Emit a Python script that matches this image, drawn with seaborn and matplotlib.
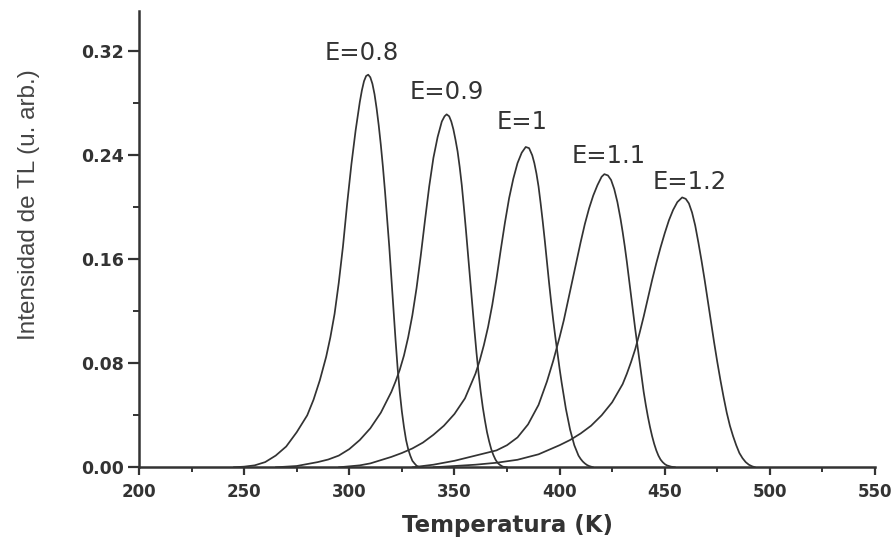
import matplotlib
matplotlib.use("Agg")
import matplotlib.pyplot as plt
import seaborn as sns
import numpy as np
import pandas as pd
from matplotlib.ticker import MultipleLocator, FormatStrFormatter

# ---- data ----
T_08 = [245, 250, 255, 260, 265, 270, 275, 280, 283, 286, 289, 291, 293, 295, 297, 299, 301, 303, 305, 306,
        307, 308, 309, 310, 311, 312, 313, 314, 315, 316, 317, 318, 319, 320, 321, 322, 323, 324, 325, 326,
        327, 328, 329, 330, 331, 332, 333, 335]
I_08 = [0, .0005, .0015, .004, .009, .016, .027, .040, .052, .067, .085, .100, .118, .142, .170, .203, .233, .259, .281, .290,
        .297, .301, .302, .300, .295, .287, .276, .263, .248, .231, .212, .191, .170, .146, .122, .098, .076, .058, .043, .031,
        .021, .014, .009, .005, .003, .0012, .0004, 0]

T_09 = [265, 275, 285, 290, 295, 300, 305, 310, 315, 320, 322, 324, 326, 328, 330, 332, 334, 336, 338, 340,
        342, 344, 345.3, 346.3, 347.5, 348.5, 349.5, 350.5, 351.5, 352.5, 353.5, 354.5, 355.5, 356.5, 357.5, 358.5,
        359.5, 360.5, 361.5, 362.5, 363.5, 364.5, 365.5, 366.5, 367.5, 368.5, 369.5, 370.5, 371.5, 373, 375]
I_09 = [0, .001, .004, .006, .009, .014, .021, .030, .042, .058, .066, .075, .086, .100, .117, .138, .163, .190, .216, .238,
        .254, .266, .270, .2715, .270, .266, .260, .252, .243, .231, .217, .200, .182, .163, .144, .125,
        .106, .088, .072, .058, .046, .036, .027, .020, .014, .0095, .006, .0035, .002, .0005, 0]

T_10 = [295, 305, 310, 315, 320, 325, 330, 335, 340, 345, 350, 355, 360, 362, 364, 366, 368, 370, 372, 374,
        376, 378, 380, 382, 383.9, 385.5, 387, 388, 389, 390, 391, 392, 393, 394, 395, 396, 397, 398, 399, 400,
        401, 402, 403, 404, 405, 406, 407, 408, 409, 410, 411, 412, 413, 414, 416]
I_10 = [0, .0015, .003, .0055, .008, .011, .0145, .019, .025, .032, .041, .053, .072, .082, .094, .108, .125, .145, .167, .188,
        .207, .222, .234, .242, .2464, .2455, .240, .234, .226, .216, .203, .189, .174, .158, .142, .127, .113, .100, .088, .076,
        .065, .055, .045, .037, .029, .023, .017, .013, .009, .0065, .0045, .003, .0018, .001, 0]

T_11 = [330, 340, 350, 360, 365, 370, 375, 380, 385, 390, 394, 397, 400, 402, 404, 406, 408, 410, 412, 414,
        416, 418, 420, 421.3, 423, 424.5, 426, 427.5, 429, 430, 431, 432, 433, 434, 435, 436, 437, 438, 439, 440,
        441, 442, 443, 444, 445, 446, 447, 448, 449, 450, 451, 453, 455]
I_11 = [0, .002, .005, .009, .011, .013, .017, .023, .033, .048, .066, .082, .100, .113, .128, .143, .158, .173, .187, .199,
        .209, .217, .2235, .2255, .2245, .221, .214, .204, .191, .181, .170, .158, .145, .132, .119, .106, .094, .082, .070, .058,
        .048, .039, .031, .024, .018, .013, .009, .006, .004, .0025, .0015, .0005, 0]

T_12 = [340, 350, 360, 370, 380, 390, 400, 405, 410, 415, 420, 425, 430, 432, 434, 436, 438, 440, 442, 444,
        446, 448, 450, 452, 454, 456, 458.3, 460, 461.5, 463, 464.5, 466, 467.5, 469, 470.5, 472, 473.5, 475,
        476.5, 478, 479.5, 481, 482.5, 484, 485.5, 487, 488.5, 490, 491.5, 493]
I_12 = [0, .001, .002, .0035, .0058, .010, .017, .021, .026, .032, .040, .050, .064, .072, .081, .091, .103, .116, .130, .144,
        .157, .169, .180, .190, .198, .204, .2076, .2065, .203, .196, .186, .173, .159, .144, .128, .112, .096, .081,
        .067, .054, .042, .032, .024, .017, .011, .007, .004, .002, .0008, 0]

curve_names = ["E=0.8", "E=0.9", "E=1", "E=1.1", "E=1.2"]
curve_T = [T_08, T_09, T_10, T_11, T_12]
curve_I = [I_08, I_09, I_10, I_11, I_12]

# label anchor positions (data coords)
label_T = [305.9, 346.5, 382.0, 423.2, 462.0]
label_I = [0.3185, 0.2886, 0.2656, 0.2395, 0.2196]

x_ticks = [200, 250, 300, 350, 400, 450, 500, 550]
y_ticks = [0.00, 0.08, 0.16, 0.24, 0.32]

# ---- figure ----
sns.set_style("ticks")
plt.rcParams['font.family'] = ['DejaVu Sans']

fig = plt.figure(figsize=(8.93, 5.42), dpi=100)
ax = fig.add_axes([139/893, 1 - 467.3/542, 736/893, (467.3 - 11)/542])

ink = "#333333"
frames = []
for name, T, I in zip(curve_names, curve_T, curve_I):
    frames.append(pd.DataFrame({"T": T, "I": I, "curve": name}))
df = pd.concat(frames, ignore_index=True)

for name in curve_names:
    sub = df[df["curve"] == name]
    sns.lineplot(data=sub, x="T", y="I", ax=ax, color=ink, lw=1.25, sort=False,
                 estimator=None, legend=False)

for name, tx, ty in zip(curve_names, label_T, label_I):
    ax.text(tx, ty, name, ha="center", va="center", fontsize=17.5, color=ink,
            family="DejaVu Sans")

ax.set_xlim(200, 550)
ax.set_ylim(0, 0.351)
ax.set_xticks(x_ticks)
ax.set_yticks(y_ticks)
ax.xaxis.set_minor_locator(MultipleLocator(25))
ax.yaxis.set_minor_locator(MultipleLocator(0.04))
ax.yaxis.set_major_formatter(FormatStrFormatter("%.2f"))

for side in ["top", "right"]:
    ax.spines[side].set_visible(False)
for side in ["left", "bottom"]:
    ax.spines[side].set_linewidth(1.8)
    ax.spines[side].set_color(ink)

ax.tick_params(axis="x", which="major", length=6, width=1.6, color=ink, pad=5,
               labelsize=12, labelcolor=ink)
ax.tick_params(axis="x", which="minor", length=3.5, width=1.4, color=ink)
ax.tick_params(axis="y", which="major", length=8, width=1.6, color=ink, pad=3,
               labelsize=12.5, labelcolor=ink)
ax.tick_params(axis="y", which="minor", length=4.5, width=1.4, color=ink)
for lab in ax.get_xticklabels() + ax.get_yticklabels():
    lab.set_fontweight("bold")

ax.set_xlabel("Temperatura (K)", fontsize=16.5, fontweight="bold", color=ink, labelpad=10)
ax.set_ylabel("Intensidad de TL (u. arb.)", fontsize=17.5, color="#444444",
              family="Liberation Sans")
ax.yaxis.set_label_coords(-0.135, 0.575)

fig.savefig("out.png", dpi=100, facecolor="white")
